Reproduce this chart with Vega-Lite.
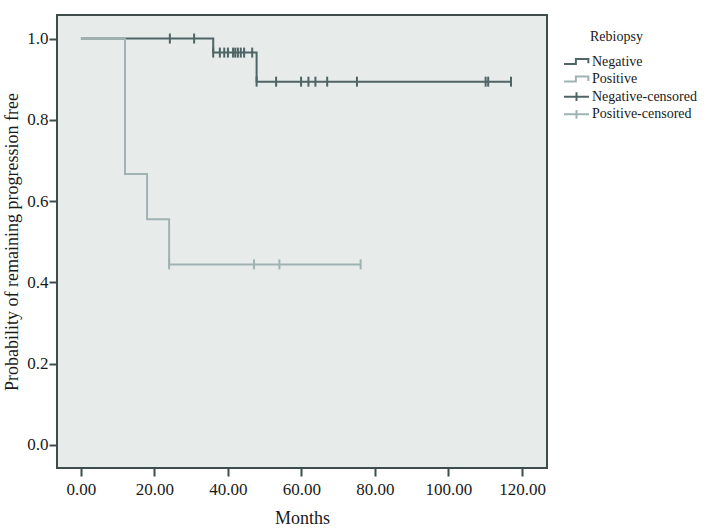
{
  "$schema": "https://vega.github.io/schema/vega-lite/v6.json",
  "width": 490,
  "height": 453,
  "autosize": {"type": "none"},
  "padding": {"left": 57, "top": 15, "right": 161, "bottom": 60},
  "background": "white",
  "config": {
    "view": {"fill": "#e7ecea", "stroke": "#3e4c4c", "strokeWidth": 2},
    "font": "Liberation Serif",
    "axis": {
      "labelFont": "Liberation Serif",
      "titleFont": "Liberation Serif",
      "labelFontSize": 17,
      "titleFontSize": 18,
      "labelColor": "#1a1a1a",
      "titleColor": "#1a1a1a",
      "titleFontWeight": "normal",
      "tickColor": "#3e4c4c",
      "tickWidth": 2,
      "tickSize": 8,
      "domain": false,
      "grid": false
    },
    "legend": {
      "orient": "none",
      "legendX": 512,
      "legendY": 15,
      "padding": 0,
      "titleFont": "Liberation Serif",
      "titleFontSize": 14,
      "titleFontWeight": "normal",
      "titleColor": "#1a1a1a",
      "titlePadding": 10,
      "labelFont": "Liberation Serif",
      "labelFontSize": 14,
      "labelColor": "#1a1a1a",
      "labelOffset": 8,
      "symbolSize": 156,
      "symbolStrokeWidth": 2,
      "symbolOpacity": 1,
      "gridAlign": "all",
      "rowPadding": 0.6
    }
  },
  "datasets": {
    "curves": [
      {"series": "Negative", "month": 0, "prob": 1.0},
      {"series": "Negative", "month": 36, "prob": 0.9655},
      {"series": "Negative", "month": 47.8, "prob": 0.894},
      {"series": "Negative", "month": 117, "prob": 0.894},
      {"series": "Positive", "month": 0, "prob": 1.0},
      {"series": "Positive", "month": 12, "prob": 0.6667},
      {"series": "Positive", "month": 18, "prob": 0.5556},
      {"series": "Positive", "month": 24, "prob": 0.4444},
      {"series": "Positive", "month": 76.1, "prob": 0.4444}
    ],
    "censored": [
      {"series": "Negative-censored", "month": 24.2, "prob": 1.0},
      {"series": "Negative-censored", "month": 30.8, "prob": 1.0},
      {"series": "Negative-censored", "month": 36.0, "prob": 0.9655},
      {"series": "Negative-censored", "month": 37.8, "prob": 0.9655},
      {"series": "Negative-censored", "month": 39.0, "prob": 0.9655},
      {"series": "Negative-censored", "month": 40.0, "prob": 0.9655},
      {"series": "Negative-censored", "month": 41.4, "prob": 0.9655},
      {"series": "Negative-censored", "month": 42.0, "prob": 0.9655},
      {"series": "Negative-censored", "month": 42.7, "prob": 0.9655},
      {"series": "Negative-censored", "month": 43.5, "prob": 0.9655},
      {"series": "Negative-censored", "month": 44.4, "prob": 0.9655},
      {"series": "Negative-censored", "month": 46.6, "prob": 0.9655},
      {"series": "Negative-censored", "month": 47.8, "prob": 0.894},
      {"series": "Negative-censored", "month": 53.1, "prob": 0.894},
      {"series": "Negative-censored", "month": 59.9, "prob": 0.894},
      {"series": "Negative-censored", "month": 61.9, "prob": 0.894},
      {"series": "Negative-censored", "month": 63.8, "prob": 0.894},
      {"series": "Negative-censored", "month": 67.0, "prob": 0.894},
      {"series": "Negative-censored", "month": 75.1, "prob": 0.894},
      {"series": "Negative-censored", "month": 110.1, "prob": 0.894},
      {"series": "Negative-censored", "month": 110.8, "prob": 0.894},
      {"series": "Negative-censored", "month": 117.0, "prob": 0.894},
      {"series": "Positive-censored", "month": 24.0, "prob": 0.4444},
      {"series": "Positive-censored", "month": 47.1, "prob": 0.4444},
      {"series": "Positive-censored", "month": 54.0, "prob": 0.4444},
      {"series": "Positive-censored", "month": 76.1, "prob": 0.4444}
    ],
    "legendkeys": [
      {"series": "Negative", "month": 0, "prob": 1.0},
      {"series": "Positive", "month": 0, "prob": 1.0},
      {"series": "Negative-censored", "month": 0, "prob": 1.0},
      {"series": "Positive-censored", "month": 0, "prob": 1.0}
    ]
  },
  "encoding": {
    "x": {
      "field": "month",
      "type": "quantitative",
      "title": "Months",
      "scale": {"domain": [-6.5, 126.8], "nice": false, "zero": false},
      "axis": {"values": [0, 20, 40, 60, 80, 100, 120], "format": ".2f", "labelPadding": 5, "titlePadding": 12}
    },
    "y": {
      "field": "prob",
      "type": "quantitative",
      "title": "Probability of remaining progression free",
      "scale": {"domain": [-0.0566, 1.058], "nice": false, "zero": false},
      "axis": {"values": [0, 0.2, 0.4, 0.6, 0.8, 1.0], "format": ".1f", "labelPadding": 1, "titlePadding": 5}
    },
    "color": {
      "field": "series",
      "type": "nominal",
      "scale": {
        "domain": ["Negative", "Positive", "Negative-censored", "Positive-censored"],
        "range": ["#4f6465", "#9fb3b3", "#4f6465", "#9fb3b3"]
      },
      "legend": {"title": "\u200b\u00a0\u00a0\u00a0\u00a0\u00a0\u00a0Rebiopsy"}
    }
  },
  "layer": [
    {
      "data": {"name": "curves"},
      "mark": {"type": "line", "interpolate": "step-after", "strokeWidth": 2}
    },
    {
      "data": {"name": "censored"},
      "mark": {"type": "point", "shape": "M0,-1V1", "filled": false, "size": 100, "strokeWidth": 2, "opacity": 1}
    },
    {
      "data": {"name": "legendkeys"},
      "mark": {"type": "point", "filled": false, "opacity": 0, "size": 156},
      "encoding": {
        "shape": {
          "field": "series",
          "type": "nominal",
          "scale": {
            "domain": ["Negative", "Positive", "Negative-censored", "Positive-censored"],
            "range": ["M-2,0.4H-0.1V-0.4H1.9V0.3", "M-2,0.4H-0.1V-0.4H1.9V0.3", "M-2,0H2M0,-0.7V0.7", "M-2,0H2M0,-0.7V0.7"]
          },
          "legend": {"title": "\u200b\u00a0\u00a0\u00a0\u00a0\u00a0\u00a0Rebiopsy"}
        }
      }
    }
  ]
}
